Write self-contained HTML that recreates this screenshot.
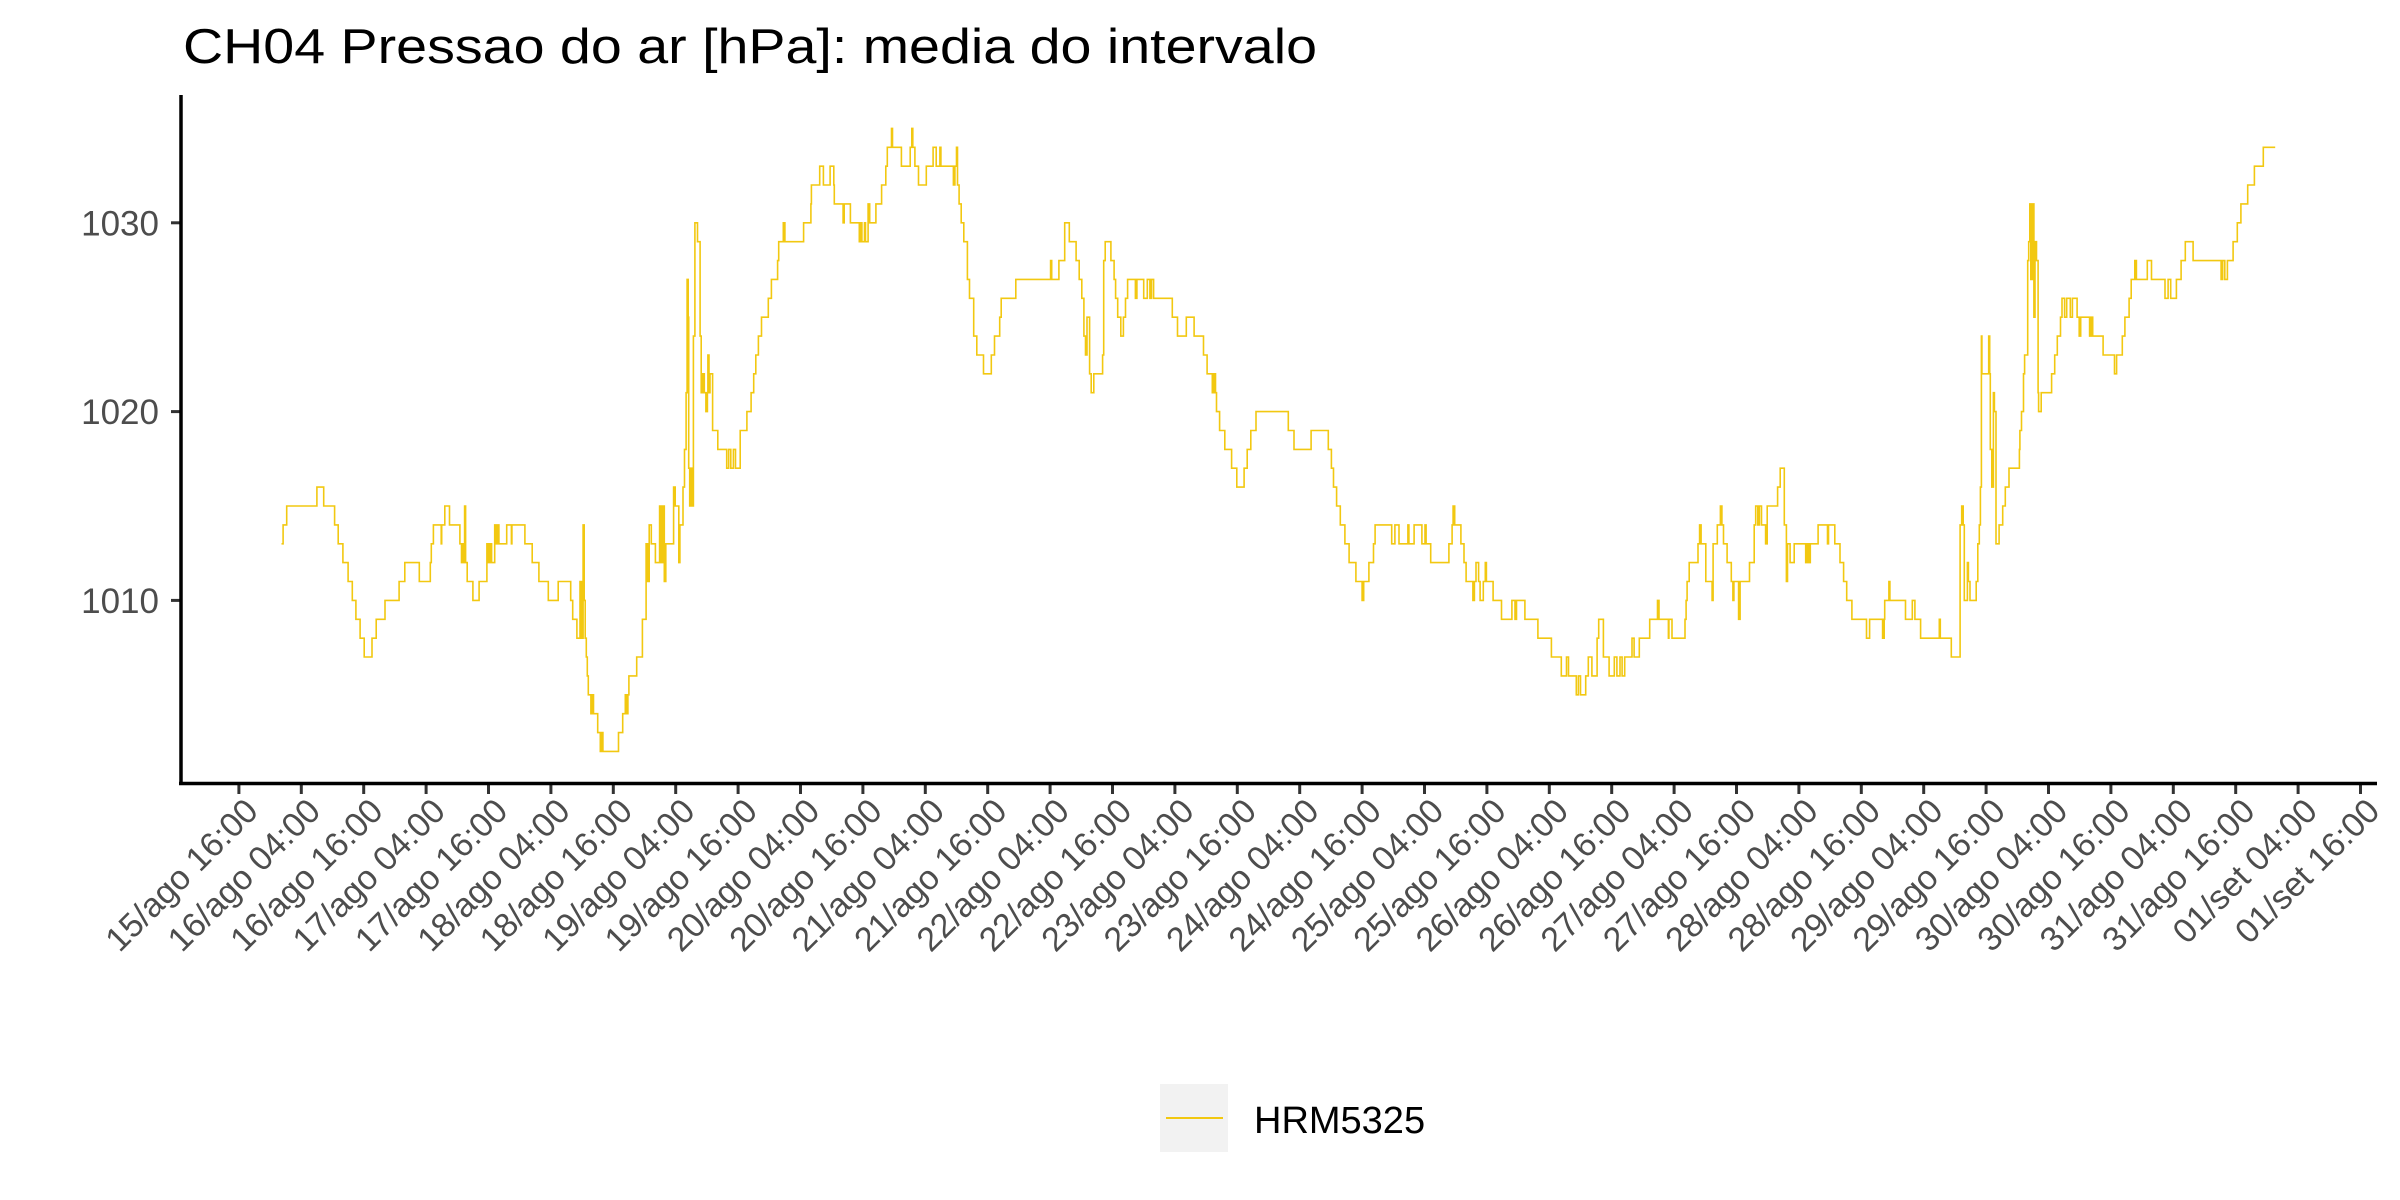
<!DOCTYPE html>
<html>
<head>
<meta charset="utf-8">
<style>
html,body{margin:0;padding:0;background:#fff;}
svg{display:block;font-family:"Liberation Sans",Arial,sans-serif;}
</style>
</head>
<body>
<svg id="chart" width="2400" height="1200" viewBox="0 0 2400 1200" xmlns="http://www.w3.org/2000/svg">
  <rect x="0" y="0" width="2400" height="1200" fill="#ffffff"/>
  <text x="183" y="63" font-size="49" fill="#000" textLength="1134" lengthAdjust="spacingAndGlyphs">CH04 Pressao do ar [hPa]: media do intervalo</text>
  <g id="yaxis"></g>
  <g id="xaxis"></g>
  <g id="series"></g>
  <line x1="181" y1="95" x2="181" y2="785" stroke="#000" stroke-width="3.5"/>
  <line x1="179" y1="783.5" x2="2377" y2="783.5" stroke="#000" stroke-width="3.5"/>
  <g>
    <rect x="1160" y="1084" width="68" height="68" fill="#f2f2f2"/>
    <line x1="1166" y1="1118" x2="1223" y2="1118" stroke="#f2c811" stroke-width="2"/>
    <text x="1254" y="1133" font-size="38" fill="#000">HRM5325</text>
  </g>
</svg>
<script>
const yTicks = [1010, 1020, 1030];
const xTickLabels = ["15/ago 16:00","16/ago 04:00","16/ago 16:00","17/ago 04:00","17/ago 16:00","18/ago 04:00","18/ago 16:00","19/ago 04:00","19/ago 16:00","20/ago 04:00","20/ago 16:00","21/ago 04:00","21/ago 16:00","22/ago 04:00","22/ago 16:00","23/ago 04:00","23/ago 16:00","24/ago 04:00","24/ago 16:00","25/ago 04:00","25/ago 16:00","26/ago 04:00","26/ago 16:00","27/ago 04:00","27/ago 16:00","28/ago 04:00","28/ago 16:00","29/ago 04:00","29/ago 16:00","30/ago 04:00","30/ago 16:00","31/ago 04:00","31/ago 16:00","01/set 04:00","01/set 16:00"];
const xTickHours = [0,12,24,36,48,60,72,84,96,108,120,132,144,156,168,180,192,204,216,228,240,252,264,276,288,300,312,324,336,348,360,372,384,396,408];
// hours since 15/ago 16:00 at which the step value changes
const hours = [8.2,8.5,9.2,15.0,16.3,18.4,19.1,20.0,21.0,21.8,22.5,23.3,24.1,25.6,26.4,28.1,30.8,31.9,34.7,36.8,37.0,37.4,38.9,39.0,39.6,40.5,42.5,42.8,43.1,43.3,43.4,43.6,43.9,45.0,46.2,47.7,48.0,48.3,48.6,49.2,49.5,49.8,50.0,51.5,52.4,52.5,55.0,56.4,57.7,59.5,61.4,63.8,64.2,65.0,65.6,65.9,66.2,66.4,66.6,66.8,67.0,67.2,67.7,67.9,68.2,69.0,69.5,69.8,70.0,73.0,73.8,74.3,74.5,74.8,75.0,76.5,77.6,78.3,78.6,78.9,79.3,80.1,80.9,81.2,81.5,81.8,82.1,83.6,83.9,84.6,84.8,85.4,85.7,86.0,86.2,86.4,86.5,86.7,87.0,87.3,87.4,87.7,88.2,88.7,88.9,89.2,89.5,89.8,90.1,90.2,90.4,90.6,91.1,92.1,93.8,94.2,94.6,95.1,95.5,96.4,97.7,98.5,99.0,99.4,99.9,100.5,101.8,
102.4,103.6,103.8,104.7,105.0,108.6,110.0,110.1,111.7,112.4,113.7,114.4,114.5,116.2,116.4,117.6,119.3,119.6,119.8,120.3,120.5,121.0,121.3,122.5,123.6,124.4,124.7,125.5,125.7,127.4,129.1,129.4,129.6,130.0,130.7,132.2,133.5,134.1,134.8,135.0,137.4,137.7,138.0,138.2,138.5,138.9,139.4,140.1,140.5,141.3,141.9,143.2,144.7,145.3,146.3,146.6,149.4,156.1,156.3,157.7,158.8,159.7,161.0,161.6,162.1,162.5,162.8,163.1,163.6,163.9,164.4,166.1,166.3,166.6,167.7,168.3,168.6,169.0,169.6,170.1,170.5,170.9,172.4,172.7,174.0,174.7,175.2,175.5,175.9,179.5,180.5,182.2,183.7,185.5,186.2,187.2,187.5,187.8,188.0,188.6,189.6,190.9,191.9,193.3,193.9,194.6,195.6,201.8,202.9,206.2,209.5,210.1,210.5,211.1,211.8,
212.7,213.5,214.8,216.0,216.3,217.3,218.2,218.5,221.7,222.3,223.1,224.8,225.0,226.0,227.5,228.1,228.3,229.2,232.7,233.3,233.5,233.8,235.0,235.6,236.0,237.3,237.6,237.9,238.4,238.7,239.3,239.7,239.9,241.2,242.8,244.8,245.4,245.7,247.3,249.8,252.4,254.3,255.3,255.7,257.2,257.6,258.0,259.0,259.5,260.2,261.2,261.5,262.4,263.5,264.5,265.0,265.6,266.0,266.5,267.9,268.3,269.3,271.3,272.8,273.1,274.9,275.0,275.6,278.1,278.3,278.5,278.9,280.6,280.9,281.2,282.1,283.3,283.5,284.3,284.9,285.2,285.5,286.2,287.0,287.3,287.5,288.4,288.7,290.5,291.4,291.7,292.1,292.4,292.8,293.6,293.9,295.9,296.4,297.2,297.6,297.8,298.3,299.1,301.3,301.6,301.9,302.2,303.7,305.5,305.7,306.9,307.9,308.6,309.2,310.2,313.0,313.6,316.1,316.4,316.5,317.3,317.5,320.5,321.8,322.3,323.4,
327.0,327.2,329.3,331.0,331.3,331.6,331.8,332.4,332.6,332.9,334.1,334.4,334.7,334.9,335.1,335.2,336.5,336.7,336.8,337.1,337.4,337.6,337.9,338.5,339.2,339.7,340.4,342.4,342.5,342.8,343.2,343.4,344.0,344.2,344.4,344.6,344.9,345.2,345.4,345.7,346.0,346.1,346.6,348.6,349.2,349.7,350.3,350.6,351.1,351.5,352.2,352.6,353.5,353.9,354.2,355.9,356.2,356.5,358.5,360.7,361.1,362.2,362.7,363.5,363.9,364.6,364.9,367.0,367.8,370.4,371.0,371.5,372.6,373.5,374.3,375.8,381.2,381.5,381.9,382.4,383.5,384.3,385.0,386.3,387.6,389.3,391.6];
const pressures = [1013,1014,1015,1016,1015,1014,1013,1012,1011,1010,1009,1008,1007,1008,1009,1010,1011,1012,1011,1012,1013,1014,1013,1014,1015,1014,1013,1012,1013,1012,1015,1012,1011,1010,1011,1013,1012,1013,1012,1014,1013,1014,1013,1014,1013,1014,1013,1012,1011,1010,1011,1010,1009,1008,1011,1008,1014,1010,1008,1007,1006,1005,1004,1005,1004,1003,1002,1003,1002,1003,1004,1005,1004,1005,1006,1007,1009,1013,1011,1014,1013,1012,1015,1012,1015,1011,1013,1016,1015,1012,1014,1016,1018,1021,1027,1025,1017,1015,1017,1015,1024,1030,1029,1024,1021,1022,1021,1020,1021,1023,1021,1022,1019,1018,1017,1018,1017,1018,1017,1019,1020,1021,1022,1023,1024,1025,1026,
1027,1028,1029,1030,1029,1030,1031,1032,1033,1032,1033,1032,1031,1030,1031,1030,1029,1030,1029,1030,1029,1031,1030,1031,1032,1033,1034,1035,1034,1033,1034,1035,1034,1033,1032,1033,1034,1033,1034,1033,1032,1033,1034,1032,1031,1030,1029,1027,1026,1024,1023,1022,1023,1024,1025,1026,1027,1028,1027,1028,1030,1029,1028,1027,1026,1024,1023,1025,1022,1021,1022,1023,1028,1029,1028,1027,1026,1025,1024,1025,1026,1027,1026,1027,1026,1027,1026,1027,1026,1025,1024,1025,1024,1023,1022,1021,1022,1021,1020,1019,1018,1017,1016,1017,1018,1019,1020,1019,1018,1019,1018,1017,1016,1015,1014,
1013,1012,1011,1010,1011,1012,1013,1014,1013,1014,1013,1014,1013,1014,1013,1014,1013,1012,1013,1014,1015,1014,1013,1012,1011,1010,1011,1012,1011,1010,1011,1012,1011,1010,1009,1010,1009,1010,1009,1008,1007,1006,1007,1006,1005,1006,1005,1006,1007,1006,1008,1009,1007,1006,1007,1006,1007,1006,1007,1008,1007,1008,1009,1010,1009,1008,1009,1008,1009,1010,1011,1012,1013,1014,1013,1011,1010,1013,1014,1015,1014,1013,1012,1011,1010,1011,1009,1011,1012,1014,1015,1014,1015,1014,1013,1015,1016,1017,1014,1011,1013,1012,1013,1012,1013,1012,1013,1014,1013,1014,1013,1012,1011,1010,1009,1008,1009,1008,1009,1010,1011,1010,1009,1010,1009,1008,
1009,1008,1007,1014,1015,1014,1010,1012,1011,1010,1011,1013,1014,1016,1024,1022,1024,1022,1018,1016,1021,1020,1013,1014,1015,1016,1017,1018,1019,1020,1022,1023,1028,1029,1031,1027,1031,1025,1029,1028,1021,1020,1021,1022,1023,1024,1025,1026,1025,1026,1025,1026,1025,1024,1025,1024,1025,1024,1023,1022,1023,1024,1025,1026,1027,1028,1027,1028,1027,1026,1027,1026,1027,1028,1029,1028,1027,1028,1027,1028,1029,1030,1031,1032,1033,1034,1034];

const NS = "http://www.w3.org/2000/svg";
function xScale(h){ return 238.9 + h * 5.2; }
function yScale(v){ return 222.8 + (1030 - v) * 18.88; }

const yAxis = document.getElementById('yaxis');
yTicks.forEach(function(v){
  const y = yScale(v);
  const t = document.createElementNS(NS,'line');
  t.setAttribute('x1',171); t.setAttribute('x2',181);
  t.setAttribute('y1',y); t.setAttribute('y2',y);
  t.setAttribute('stroke','#333'); t.setAttribute('stroke-width','3');
  
  
  yAxis.appendChild(t);
  const l = document.createElementNS(NS,'text');
  l.setAttribute('x',159); l.setAttribute('y',y+12.5);
  l.setAttribute('text-anchor','end'); l.setAttribute('font-size','35');
  l.setAttribute('fill','#4d4d4d');
  l.textContent = v;
  
  
  yAxis.appendChild(l);
});

const xAxis = document.getElementById('xaxis');
xTickLabels.forEach(function(lab,i){
  const x = xScale(xTickHours[i]);
  const t = document.createElementNS(NS,'line');
  t.setAttribute('x1',x); t.setAttribute('x2',x);
  t.setAttribute('y1',784); t.setAttribute('y2',794);
  t.setAttribute('stroke','#333'); t.setAttribute('stroke-width','3');
  
  
  xAxis.appendChild(t);
  const l = document.createElementNS(NS,'text');
  l.setAttribute('transform','translate('+(x+21)+',813) rotate(-45)');
  l.setAttribute('text-anchor','end'); l.setAttribute('font-size','34');
  l.setAttribute('fill','#4d4d4d');
  l.textContent = lab;
  
  
  xAxis.appendChild(l);
});

let d = 'M' + xScale(hours[0]).toFixed(1) + ' ' + yScale(pressures[0]).toFixed(1);
for (let i = 1; i < hours.length; i++) {
  d += ' H' + xScale(hours[i]).toFixed(1) + ' V' + yScale(pressures[i]).toFixed(1);
}
const p = document.createElementNS(NS,'path');
p.setAttribute('d', d);
p.setAttribute('fill','none');
p.setAttribute('stroke','#f2c811');
p.setAttribute('stroke-width','1.6');


document.getElementById('series').appendChild(p);
</script>
</body>
</html>
